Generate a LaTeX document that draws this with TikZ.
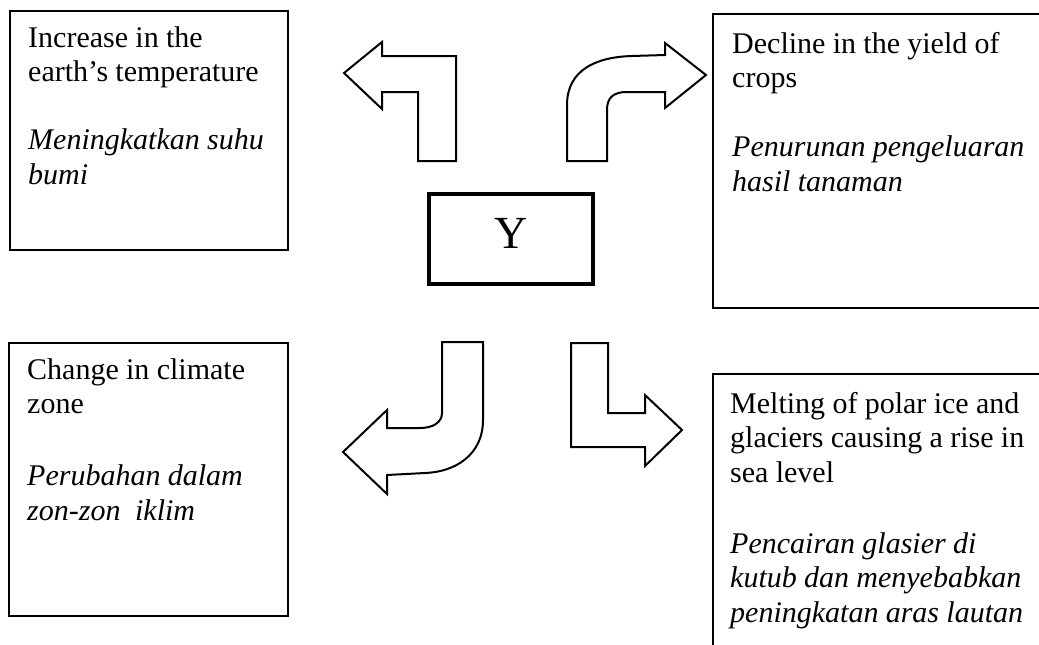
\documentclass[tikz,border=0pt]{standalone}
\usepackage{fontspec}
\setmainfont{Liberation Serif}
\newcommand\tightspaces{\spaceskip=7.3pt plus 1pt minus 1pt\relax}
\begin{document}
\begin{tikzpicture}[x=1pt,y=-1pt,
  box/.style={draw, line width=1.5pt, anchor=north west, inner sep=0pt},
  ybox/.style={draw, line width=4pt, inner sep=0pt, minimum width=164pt, minimum height=90pt},
  txt/.style={font=\fontsize{30}{34.5}\selectfont, execute at begin node=\tightspaces, text width=330pt, align=left, inner sep=0pt, anchor=base west},
  arr/.style={draw, line width=2pt, fill=white, line join=miter}]
\useasboundingbox (0,0) rectangle (1039,645);
\clip (0,0) rectangle (1039,645);
% boxes
\node[box, minimum width=278pt, minimum height=239pt] (b1) at (9,10) {};
\node[box, minimum width=400pt, minimum height=294pt] (b2) at (712,13) {};
\node[box, minimum width=279pt, minimum height=273pt] (b3) at (8,342) {};
\node[box, minimum width=400pt, minimum height=400pt] (b4) at (712,373) {};
\node[ybox] (y) at (511,239) {};
\node[font=\fontsize{46}{50}\selectfont, inner sep=0pt, anchor=base] (ylab) at (511,248) {Y};
% texts
\node[txt] (t1) at (28,47) {Increase in the\\ earth’s temperature\\[33.5pt] \textit{Meningkatkan suhu}\\ \textit{bumi}};
\node[txt] (t2) at (732,53) {Decline in the yield of\\ crops\\[34.5pt] \textit{Penurunan pengeluaran}\\ \textit{hasil tanaman}};
\node[txt] (t3) at (27,379) {Change in climate\\ zone\\[37.5pt] \textit{Perubahan dalam}\\ \textit{zon-zon\ \ iklim}};
\node[txt] (t4) at (730,413) {Melting of polar ice and\\ glaciers causing a rise in\\ sea level\\[36.5pt] \textit{Pencairan glasier di}\\ \textit{kutub dan menyebabkan}\\ \textit{peningkatan aras lautan}};
% block arrows
\path[arr] (344,73) -- (382,42) -- (382,56) -- (456,56) -- (456,161) -- (418,161) -- (418,92) -- (382,92) -- (382,109) -- cycle;
\path[arr] (567,161) -- (567,105) .. controls (567,70) and (596,57) .. (632,56) -- (665,55) -- (665,43) -- (706,75) -- (665,108) -- (665,92) -- (627,92) .. controls (614,92) and (607,97) .. (607,110) -- (607,161) -- cycle;
\path[arr] (442,342) -- (483,342) -- (483,420) .. controls (483,455) and (455,472) .. (425,473) -- (387,475) -- (387,494) -- (343,452) -- (387,410) -- (387,428) -- (420,428) .. controls (432,428) and (442,423) .. (442,413) -- cycle;
\path[arr] (571,343) -- (608,343) -- (608,413) -- (645,413) -- (645,395) -- (682,430) -- (645,466) -- (645,447) -- (571,447) -- cycle;
\end{tikzpicture}
\end{document}
